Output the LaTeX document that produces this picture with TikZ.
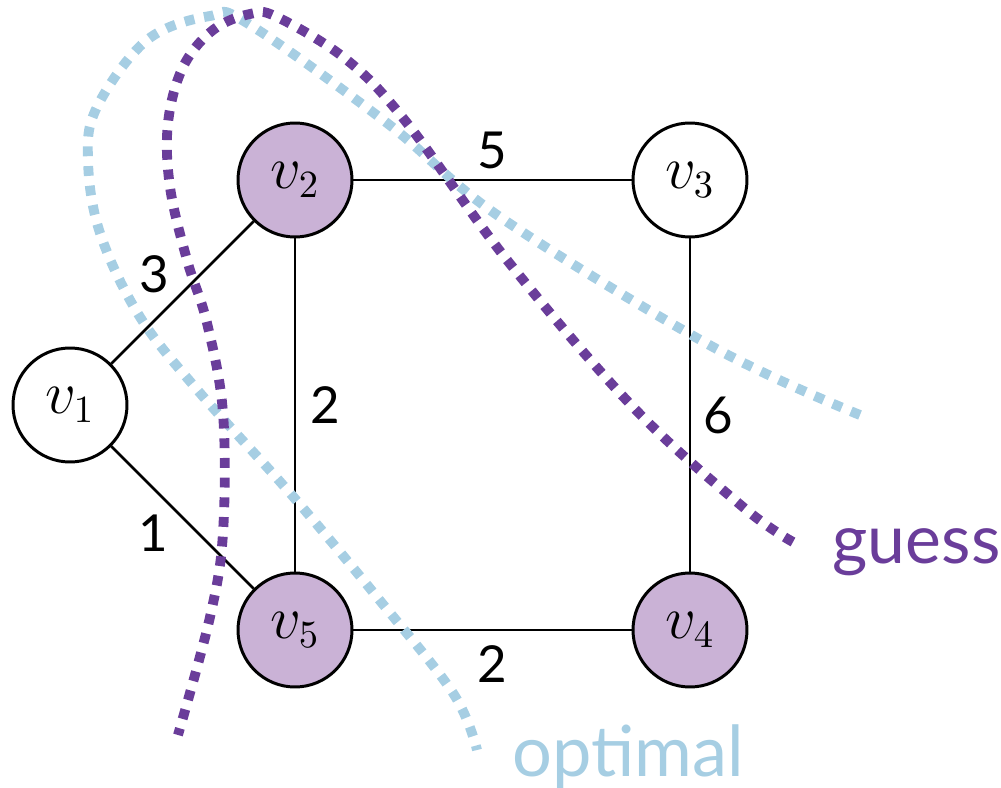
\documentclass[tikz,border=0pt]{standalone}
\usepackage{fontspec}
\setmainfont{Lato}
\usetikzlibrary{positioning}
\usepackage{xcolor}
\definecolor{guesscolor}{HTML}{6A3D9A}
\definecolor{optcolor}{HTML}{A6CEE3}
\definecolor{chosencolor}{HTML}{CAB2D6}

\begin{document}
\begin{tikzpicture}[
  font=\fontsize{14.5}{16}\selectfont,
  vertex/.style={
    circle,
    draw=black,
    line width=0.85pt,
    fill=white,
    minimum size=11.4mm,
    inner sep=0pt,
    font=\fontsize{16}{18}\selectfont
  },
  chosen/.style={vertex,fill=chosencolor},
  edge/.style={line width=0.8pt,draw=black},
  weight/.style={inner sep=1.2mm},
  diagweight/.style={inner sep=0.5mm},
  cut/.style={line width=2.8pt,dash pattern=on 2.8pt off 2.8pt,smooth,tension=0.6},
  cutlabel/.style={inner sep=0pt,anchor=base west}
]
  \useasboundingbox (0,0) rectangle (10.01,-7.88);

  % Vertices of the graph.
  \node[vertex] (v1) at (0.70,-4.05) {$v_1$};
  \node[chosen] (v2) at (2.95,-1.80) {$v_2$};
  \node[vertex] (v3) at (6.90,-1.80) {$v_3$};
  \node[chosen] (v4) at (6.90,-6.30) {$v_4$};
  \node[chosen] (v5) at (2.95,-6.30) {$v_5$};

  % Weighted edges.
  \draw[edge] (v1) -- node[diagweight,above left,pos=0.45] {3} (v2);
  \draw[edge] (v1) -- node[diagweight,below left,pos=0.44] {1} (v5);
  \draw[edge] (v2) -- node[weight,above,inner sep=1mm] {5} (v3);
  \draw[edge] (v2) -- node[weight,right,inner sep=1.4mm] {2} (v5);
  \draw[edge] (v3) -- node[weight,right,pos=0.53] {6} (v4);
  \draw[edge] (v5) -- node[weight,below,inner sep=1.4mm] {2} (v4);

  % The two cuts.
  \draw[cut,optcolor] plot coordinates {
    (8.60,-4.15) (7.13,-3.47) (5.00,-2.17) (3.87,-1.23) (2.47,-0.23)
    (2.10,-0.16) (1.47,-0.40) (0.97,-1.07) (0.88,-1.60) (1.00,-2.33)
    (1.40,-3.17) (2.00,-3.93) (2.90,-4.93) (3.77,-5.97) (4.53,-6.93)
    (4.77,-7.50)};
  \draw[cut,guesscolor] plot coordinates {
    (7.93,-5.42) (7.43,-5.07) (6.33,-4.07) (5.07,-2.60) (4.07,-1.23)
    (3.47,-0.60) (2.77,-0.17) (2.50,-0.14) (2.13,-0.30) (1.83,-0.67)
    (1.68,-1.23) (1.70,-1.87) (1.87,-2.60) (2.07,-3.23) (2.23,-4.13)
    (2.23,-5.33) (2.10,-6.17) (1.78,-7.35)};

  \node[cutlabel,text=guesscolor,font=\fontsize{19.3}{21}\selectfont] (guess) at (8.32,-5.63) {guess};
  \node[cutlabel,text=optcolor,font=\fontsize{20}{22}\selectfont] (optimal) at (5.12,-7.76) {optimal};
\end{tikzpicture}
\end{document}
